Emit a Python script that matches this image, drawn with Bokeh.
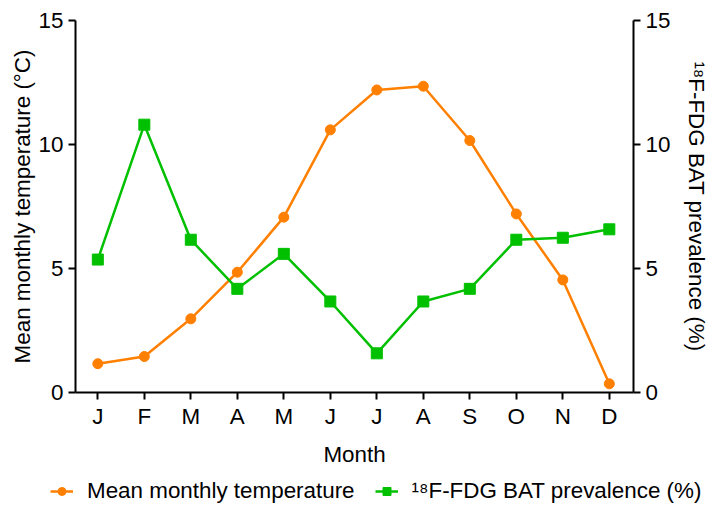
from bokeh.plotting import figure
from bokeh.models import (ColumnDataSource, LinearAxis, Range1d, FixedTicker,
                          Legend, LegendItem)
from bokeh.embed import file_html
from bokeh.resources import INLINE

months = ["J", "F", "M", "A", "M", "J", "J", "A", "S", "O", "N", "D"]
temperature = [1.16, 1.45, 2.97, 4.85, 7.07, 10.59, 12.2, 12.35, 10.16, 7.2, 4.54, 0.35]
bat_prevalence = [5.36, 10.8, 6.16, 4.18, 5.59, 3.67, 1.58, 3.67, 4.18, 6.16, 6.24, 6.58]
y_ticks = [0, 5, 10, 15]
series_names = ["Mean monthly temperature", "¹⁸F-FDG BAT prevalence (%)"]

x = list(range(len(months)))
src = ColumnDataSource(dict(x=x, temp=temperature, bat=bat_prevalence))

ORANGE = "#FF8000"
GREEN = "#00C000"
FONT = "Liberation Sans"
FS = "22.4px"

p = figure(width=712, height=472, output_backend="svg", toolbar_location=None,
           x_range=Range1d(-0.48, 11.52), y_range=Range1d(0, 15),
           min_border_left=75, min_border_right=79, min_border_top=20,
           min_border_bottom=80)
p.extra_y_ranges = {"bat": Range1d(0, 15)}
p.xgrid.visible = False
p.ygrid.visible = False
p.outline_line_color = None
p.background_fill_color = "white"
p.border_fill_color = "white"

p.line("x", "temp", source=src, line_color=ORANGE, line_width=2.5)
p.scatter("x", "temp", source=src, marker="circle", size=10,
          fill_color=ORANGE, line_color=ORANGE)
p.line("x", "bat", source=src, line_color=GREEN, line_width=2.5,
       y_range_name="bat")
p.scatter("x", "bat", source=src, marker="square", size=11,
          fill_color=GREEN, line_color=GREEN, y_range_name="bat")

xa = p.xaxis[0]
xa.ticker = FixedTicker(ticks=x)
xa.major_label_overrides = {i: m for i, m in enumerate(months)}
xa.axis_label = "Month"

ya = p.yaxis[0]
ya.ticker = FixedTicker(ticks=y_ticks)
ya.axis_label = "Mean monthly temperature (°C)"

ra = LinearAxis(y_range_name="bat", ticker=FixedTicker(ticks=y_ticks),
                axis_label=series_names[1])
p.add_layout(ra, "right")

for ax in [xa, ya, ra]:
    ax.axis_line_width = 2
    ax.axis_line_color = "black"
    ax.major_tick_line_width = 2
    ax.major_tick_line_color = "black"
    ax.major_tick_out = 7
    ax.major_tick_in = 0
    ax.minor_tick_line_color = None
    ax.major_label_text_font = FONT
    ax.major_label_text_font_size = FS
    ax.major_label_text_color = "black"
    ax.axis_label_text_font = FONT
    ax.axis_label_text_font_size = FS
    ax.axis_label_text_font_style = "normal"
    ax.axis_label_text_color = "black"
    ax.major_label_standoff = 5
xa.major_label_standoff = 4
xa.axis_label_standoff = 10
ya.axis_label_standoff = 1
ra.axis_label_standoff = 11

# legend strip below the chart (its glyphs use the same data, kept off-view)
lg = figure(width=712, height=34, output_backend="svg", toolbar_location=None,
            x_range=Range1d(1000, 1001), y_range=Range1d(1000, 1001),
            x_axis_location=None, y_axis_location=None,
            min_border=0, min_border_left=0, min_border_right=0,
            min_border_top=0, min_border_bottom=0)
lg.grid.visible = False
lg.outline_line_color = None
lg.border_fill_color = "white"
lg.background_fill_color = "white"
ll1 = lg.line("x", "temp", source=src, line_color=ORANGE, line_width=2.5)
ls1 = lg.scatter("x", "temp", source=src, marker="circle", size=8,
                 fill_color=ORANGE, line_color=ORANGE)
ll2 = lg.line("x", "bat", source=src, line_color=GREEN, line_width=2.5)
ls2 = lg.scatter("x", "bat", source=src, marker="square", size=9,
                 fill_color=GREEN, line_color=GREEN)
legend = Legend(items=[LegendItem(label=series_names[0], renderers=[ll1, ls1]),
                       LegendItem(label=series_names[1], renderers=[ll2, ls2])],
                location=(50, 2), orientation="horizontal",
                border_line_color=None, background_fill_alpha=0,
                label_text_font=FONT, label_text_font_size=FS,
                label_text_color="black",
                glyph_width=23, label_standoff=14, spacing=20,
                padding=0, margin=0)
lg.add_layout(legend, "center")

open("out.html", "w").write(file_html([p, lg], INLINE))
